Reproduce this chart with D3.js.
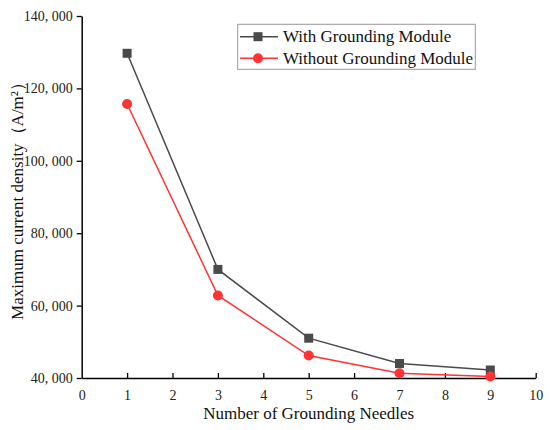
<!DOCTYPE html>
<html>
<head>
<meta charset="utf-8">
<script src="https://cdn.jsdelivr.net/npm/d3@7"></script>
<style>
html,body{margin:0;padding:0;background:#fff;}
</style>
</head>
<body>
<svg id="chart" width="550" height="430"></svg>
<script>
const needles = [1, 3, 5, 7, 9];
const withModule = [129700, 70000, 51000, 44000, 42200];
const withoutModule = [115700, 62800, 46200, 41300, 40400];
const xTicks = [0,1,2,3,4,5,6,7,8,9,10];
const yTicks = [40000, 60000, 80000, 100000, 120000, 140000];
const seriesNames = ["With Grounding Module", "Without Grounding Module"];
const seriesColors = ["#4a4a4a", "#ff3333"];

(function(){
const FONT = "'Liberation Serif', 'Times New Roman', serif";
const svg = d3.select("#chart");
const pLeft = 81.7, pRight = 535.7, pTop = 16, pBottom = 378;
const x = d3.scaleLinear().domain([0,10]).range([pLeft,pRight]);
const y = d3.scaleLinear().domain([40000,140000]).range([pBottom,pTop]);

const fmt = v => d3.format(",")(v).replace(",", ", ");

// x axis (inward ticks)
const xa = svg.append("g").attr("transform",`translate(0,${pBottom})`)
  .call(d3.axisBottom(x).tickValues(xTicks).tickSizeInner(-5).tickSizeOuter(0).tickPadding(12));
xa.attr("font-family", null).attr("font-size", null);
xa.select(".domain").attr("stroke","#000").attr("stroke-width",1.5);
xa.selectAll(".tick line").attr("stroke","#000").attr("stroke-width",1.3)
  .filter(d=>d===0).remove();
xa.selectAll(".tick text").style("font-family",FONT).style("font-size","14px").attr("fill","#222");

// y axis (outward ticks)
const ya = svg.append("g").attr("transform",`translate(${pLeft},0)`)
  .call(d3.axisLeft(y).tickValues(yTicks).tickFormat(fmt).tickSizeInner(5).tickSizeOuter(0).tickPadding(4));
ya.attr("font-family", null).attr("font-size", null);
ya.select(".domain").attr("stroke","#000").attr("stroke-width",1.5);
ya.selectAll(".tick line").attr("stroke","#000").attr("stroke-width",1.3);
ya.selectAll(".tick text").style("font-family",FONT).style("font-size","14px").attr("fill","#222");

// axis titles
svg.append("text").attr("x",(pLeft+pRight)/2).attr("y",419).attr("text-anchor","middle")
  .style("font-family",FONT).style("font-size","17px").attr("fill","#111").text("Number of Grounding Needles");
svg.append("text").attr("transform",`translate(23,197) rotate(-90)`).attr("text-anchor","middle")
  .style("font-family",FONT).style("font-size","17px").attr("fill","#111").text("Maximum current density（A/m²）");

const line = d3.line().x((d,i)=>x(needles[i])).y(d=>y(d));
const data = [withModule, withoutModule];

data.forEach((vals, s) => {
  svg.append("path").datum(vals).attr("d", line).attr("fill","none")
    .attr("stroke", seriesColors[s]).attr("stroke-width",1.5);
});
svg.selectAll("rect.m").data(withModule).enter().append("rect").attr("class","m")
  .attr("x",(d,i)=>x(needles[i])-4.5).attr("y",d=>y(d)-4.5).attr("width",9).attr("height",9)
  .attr("fill",seriesColors[0]);
svg.selectAll("circle.m").data(withoutModule).enter().append("circle").attr("class","m")
  .attr("cx",(d,i)=>x(needles[i])).attr("cy",d=>y(d)).attr("r",5)
  .attr("fill",seriesColors[1]);

// legend
const lg = svg.append("g");
lg.append("rect").attr("x",237.7).attr("y",24.3).attr("width",237.6).attr("height",45)
  .attr("fill","#fff").attr("stroke","#999").attr("stroke-width",1);
const rowsY = [36.7, 58.3];
seriesNames.forEach((name, s) => {
  lg.append("line").attr("x1",240).attr("x2",278).attr("y1",rowsY[s]).attr("y2",rowsY[s])
    .attr("stroke",seriesColors[s]).attr("stroke-width",1.5);
  if (s===0) lg.append("rect").attr("x",258-4.5).attr("y",rowsY[s]-4.5).attr("width",9).attr("height",9).attr("fill",seriesColors[s]);
  else lg.append("circle").attr("cx",258).attr("cy",rowsY[s]).attr("r",5).attr("fill",seriesColors[s]);
  lg.append("text").attr("x",283).attr("y",rowsY[s]+5.5).style("font-family",FONT).style("font-size","17px").attr("fill","#111").text(name);
});
})();
</script>
</body>
</html>
